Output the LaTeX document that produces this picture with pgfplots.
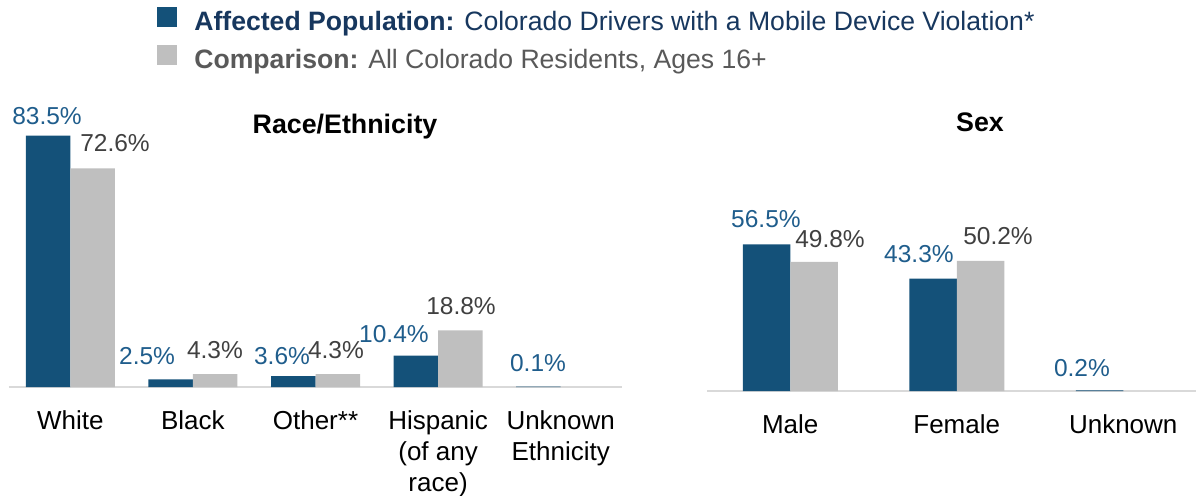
\documentclass[border=0pt]{standalone}
\usepackage{pgfplots}
\usepackage{pgfplotstable}
\pgfplotsset{compat=1.18}
\usepackage{fontspec}
\setmainfont{Liberation Sans}
\definecolor{barblue}{RGB}{20,81,121}
\definecolor{lblblue}{RGB}{31,93,140}
\definecolor{legnavy}{RGB}{23,55,94}
\definecolor{compgray}{RGB}{191,191,191}
\definecolor{lblgray}{RGB}{64,64,64}
\definecolor{leggray}{RGB}{89,89,89}
\definecolor{axgray}{RGB}{217,217,217}

% x = category, y = value, lx/ly = label centre (axis units)
\pgfplotstableread{
x y lx ly
0 83.5 -0.190 90.0
1 2.5 0.626 10.3
2 3.6 1.727 10.3
3 10.4 2.640 17.6
4 0.1 3.815 8.0
}\leftaff
\pgfplotstableread{
x y lx ly
0 72.6 0.365 81.1
1 4.3 1.180 12.3
2 4.3 2.167 12.3
3 18.8 3.187 26.9
}\leftcomp
\pgfplotstableread{
x y lx ly
0 56.5 -0.146 66.3
1 43.3 0.773 52.8
2 0.2 1.752 8.9
}\rightaff
\pgfplotstableread{
x y lx ly
0 49.8 0.239 58.6
1 50.2 1.248 59.6
}\rightcomp

\newcommand{\lblfont}{\fontsize{12.25}{15}\selectfont}
\newcommand{\tickfont}{\fontsize{13}{15.5}\selectfont}
\newcommand{\legfont}{\fontsize{13.3}{16}\selectfont}
\newcommand{\ttlfont}{\fontsize{13.4}{16}\selectfont\bfseries}

\pgfplotsset{
  mybars/.style={
    axis y line=none,
    axis x line*=bottom,
    axis line style={draw=axgray, line width=1pt},
    major tick length=0pt,
    ymin=0,
    enlarge x limits=false,
    clip=false,
    xticklabel style={font=\tickfont, align=center, anchor=north, inner sep=0pt, text=black},
  },
  bars/.style={ybar, draw=none, fill=#1},
  lbls/.style={
    forget plot, draw=none, mark=none,
    point meta=explicit,
    nodes near coords={\pgfmathprintnumber[assume math mode=true,fixed,fixed zerofill,precision=1]{\pgfplotspointmeta}\%},
    every node near coord/.style={font=\lblfont, anchor=center, inner sep=0pt, text=#1},
  },
}

\begin{document}
\begin{tikzpicture}
\path[use as bounding box] (0,0) rectangle (598pt,247.5pt);
\begin{axis}[mybars,
  at={(4.5pt,54pt)}, anchor=south west,
  x=61.3pt, y=1.505pt,
  xmin=-0.5, xmax=4.5, ymax=88,
  xtick={0,1,2,3,4},
  xticklabels={White,Black,Other**,{Hispanic\\(of any\\race)},{Unknown\\Ethnicity}},
  xticklabel style={yshift=-11.4pt},
  legend style={at={(0.2414,1.438)}, anchor=north west, draw=none, fill=none,
    inner sep=0pt, font=\legfont, row sep=5.5pt,
    nodes={inner sep=0pt}, cells={anchor=west},
    /tikz/every odd column/.append style={column sep=8.5pt}},
  legend image code/.code={\fill[#1] (0pt,-2pt) rectangle (10pt,8pt);},
]
\addplot[bars=barblue, bar width=22.25pt, bar shift=-11.125pt] table[x=x,y=y] {\leftaff};
\addplot[bars=compgray, bar width=22.25pt, bar shift=11.125pt] table[x=x,y=y] {\leftcomp};
\addplot[lbls=lblblue] table[x=lx,y=ly,meta=y] {\leftaff};
\addplot[lbls=lblgray] table[x=lx,y=ly,meta=y] {\leftcomp};
\legend{{\color{legnavy}\textbf{Affected Population:} Colorado Drivers with a Mobile Device Violation*},
        {\color{leggray}\textbf{Comparison:} All Colorado Residents, Ages 16+}}
\end{axis}
\begin{axis}[mybars,
  at={(353.5pt,52pt)}, anchor=south west,
  x=83.25pt, y=1.2965pt,
  xmin=-0.5, xmax=2.437, ymax=60,
  xtick={0,1,2},
  xticklabels={Male,Female,Unknown},
  xticklabel style={yshift=-11.7pt},
]
\addplot[bars=barblue, bar width=23.75pt, bar shift=-11.875pt] table[x=x,y=y] {\rightaff};
\addplot[bars=compgray, bar width=23.75pt, bar shift=11.875pt] table[x=x,y=y] {\rightcomp};
\addplot[lbls=lblblue] table[x=lx,y=ly,meta=y] {\rightaff};
\addplot[lbls=lblgray] table[x=lx,y=ly,meta=y] {\rightcomp};
\end{axis}
\node[anchor=base, font=\ttlfont] at (172.5pt,181pt) {Race/Ethnicity};
\node[anchor=base, font=\ttlfont] at (490pt,182pt) {Sex};
\end{tikzpicture}
\end{document}
